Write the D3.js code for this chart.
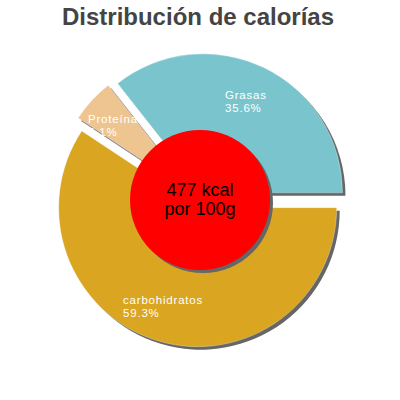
<!DOCTYPE html>
<html>
<head>
<meta charset="utf-8">
<script src="https://cdn.jsdelivr.net/npm/d3@7"></script>
<style>
html,body{margin:0;padding:0;background:#fff;}
svg{display:block;font-family:"Liberation Sans",Arial,sans-serif;}
</style>
</head>
<body>
<svg id="chart" width="400" height="400"></svg>
<script>
const categories = ["carbohidratos", "Proteínas", "Grasas"];
const values = [59.3, 5.1, 35.6];
const labels = ["59.3%", "5.1%", "35.6%"];
const colors = ["#DAA520", "#EEC591", "#7AC5CD"];
const title = "Distribución de calorías";
const centerLines = ["477 kcal", "por 100g"];

const svg = d3.select("#chart");
const cx = 200, cy = 200, R = 139, offset = 8, innerR = 70;

svg.append("text")
  .attr("x", 198).attr("y", 25)
  .attr("text-anchor", "middle")
  .attr("font-size", 24).attr("font-weight", "bold")
  .attr("fill", "#444")
  .text(title);

const data = categories.map((c, i) => ({name: c, value: values[i], label: labels[i], color: colors[i]}));
const pie = d3.pie().sort(null).value(d => d.value)
  .startAngle(Math.PI / 2).endAngle(Math.PI / 2 + 2 * Math.PI);
const arcs = pie(data);
const arc = d3.arc().innerRadius(0).outerRadius(R);

const g = svg.append("g").attr("transform", `translate(${cx},${cy})`);

function shift(d) {
  const a = (d.startAngle + d.endAngle) / 2;
  return [Math.sin(a) * offset, -Math.cos(a) * offset];
}

// shadows
g.selectAll("path.shadow").data(arcs).join("path")
  .attr("class", "shadow")
  .attr("d", arc)
  .attr("fill", "#666")
  .attr("transform", d => { const s = shift(d); return `translate(${s[0] + 3},${s[1] + 3})`; });

// slices
g.selectAll("path.slice").data(arcs).join("path")
  .attr("class", "slice")
  .attr("d", arc)
  .attr("fill", d => d.data.color)
  .attr("stroke", "rgba(255,255,255,0.5)")
  .attr("stroke-width", 0.6)
  .attr("transform", d => { const s = shift(d); return `translate(${s[0]},${s[1]})`; });

// labels
const labelPos = { "Grasas": [225, 99], "Proteínas": [88, 123], "carbohidratos": [123, 304] };
const lg = svg.append("g").attr("font-size", 11.5).attr("letter-spacing", 0.8).attr("fill", "#fff");
data.forEach(d => {
  const p = labelPos[d.name];
  lg.append("text").attr("x", p[0]).attr("y", p[1]).text(d.name);
  lg.append("text").attr("x", p[0]).attr("y", p[1] + 12.5).text(d.label);
});

// center circle
svg.append("circle").attr("cx", cx + 3).attr("cy", cy + 3).attr("r", innerR).attr("fill", "#666");
svg.append("circle").attr("cx", cx).attr("cy", cy).attr("r", innerR).attr("fill", "#FF0000");
svg.append("text").attr("x", cx).attr("y", 196).attr("text-anchor", "middle")
  .attr("font-size", 18).attr("fill", "#000").text(centerLines[0]);
svg.append("text").attr("x", cx).attr("y", 215).attr("text-anchor", "middle")
  .attr("font-size", 18).attr("fill", "#000").text(centerLines[1]);
</script>
</body>
</html>
